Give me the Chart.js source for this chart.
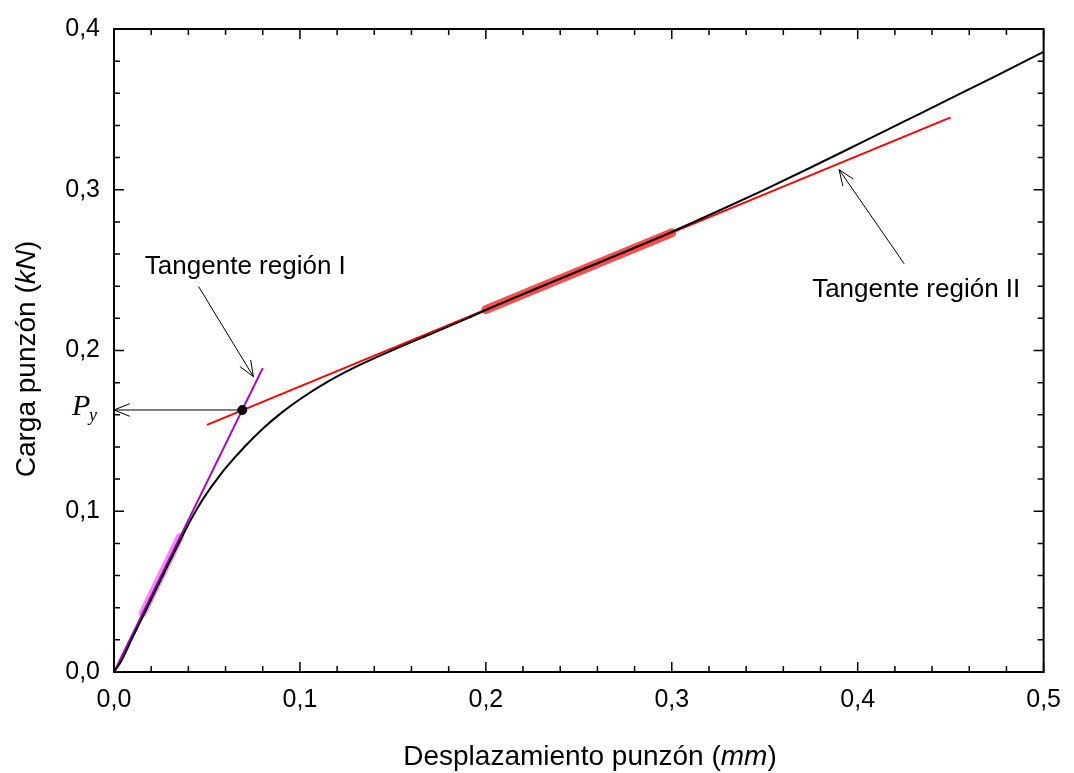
<!DOCTYPE html>
<html>
<head>
<meta charset="utf-8">
<script src="https://cdn.jsdelivr.net/npm/chart.js@4.4.0/dist/chart.umd.min.js"></script>
<style>
  body { margin: 0; background: #fff; }
  #caja { width: 1074px; height: 773px; }
</style>
</head>
<body>
<div id="caja"><canvas id="GraficoPunzon"></canvas></div>
<script>
// curva carga-desplazamiento
const desplazamiento = [0, 0.004, 0.01, 0.02, 0.03, 0.035, 0.04, 0.045, 0.05, 0.055, 0.06, 0.07, 0.08, 0.09, 0.1, 0.115, 0.13, 0.15, 0.17, 0.19, 0.2, 0.225, 0.25, 0.275, 0.3, 0.325, 0.35, 0.375, 0.4, 0.425, 0.45, 0.475, 0.5];
const carga = [0, 0.007, 0.0215, 0.0452, 0.0689, 0.0805, 0.0918, 0.1022, 0.1113, 0.1193, 0.1268, 0.1398, 0.1513, 0.1612, 0.1697, 0.1806, 0.1898, 0.2003, 0.2101, 0.22, 0.2252, 0.2375, 0.2495, 0.2615, 0.2738, 0.2868, 0.3001, 0.314, 0.3282, 0.3425, 0.3568, 0.3712, 0.3858];

// tangentes
const tangenteIx = [0, 0.08];
const tangenteIy = [0, 0.189];
const tangenteIIx = [0.05, 0.45];
const tangenteIIy = [0.1537, 0.345];

// tramos usados para el ajuste
const ajusteIx = [0.0155, 0.0353];
const ajusteIy = [0.0367, 0.0837];
const ajusteIIx = [0.2, 0.3];
const ajusteIIy = [0.2254, 0.2732];

// punto de fluencia Py
const fluenciaX = [0.069];
const fluenciaY = [0.163];

// etiquetas de los ejes
const ticksX = [0, 0.1, 0.2, 0.3, 0.4, 0.5];
const ticksY = [0, 0.1, 0.2, 0.3, 0.4];

function puntos(xs, ys) {
  return xs.map(function (x, i) {
    return { x: x, y: ys[i] };
  });
}

function coma(v) {
  return v.toFixed(1).replace(".", ",");
}

function flecha(ctx, x1, y1, x2, y2) {
  // linea con punta abierta en (x2, y2)
  var ang = Math.atan2(y2 - y1, x2 - x1);
  var largo = 17;
  var abre = 0.38;
  ctx.beginPath();
  ctx.moveTo(x1, y1);
  ctx.lineTo(x2, y2);
  ctx.moveTo(x2 - largo * Math.cos(ang - abre), y2 - largo * Math.sin(ang - abre));
  ctx.lineTo(x2, y2);
  ctx.lineTo(x2 - largo * Math.cos(ang + abre), y2 - largo * Math.sin(ang + abre));
  ctx.stroke();
}

function textoMixto(ctx, partes, x, y) {
  // partes: [texto, cursiva]
  var total = 0;
  partes.forEach(function (p) {
    ctx.font = (p[1] ? "italic " : "") + "28px 'Liberation Sans', Arial, sans-serif";
    total += ctx.measureText(p[0]).width;
  });
  var cx = x - total / 2;
  partes.forEach(function (p) {
    ctx.font = (p[1] ? "italic " : "") + "28px 'Liberation Sans', Arial, sans-serif";
    ctx.fillText(p[0], cx, y);
    cx += ctx.measureText(p[0]).width;
  });
}

const marcoYextras = {
  id: "marcoYextras",
  afterDraw: function (chart) {
    var ctx = chart.ctx;
    var a = chart.chartArea;
    var sx = chart.scales.x;
    var sy = chart.scales.y;
    ctx.save();
    ctx.strokeStyle = "#000";
    ctx.fillStyle = "#000";

    // marco
    ctx.lineWidth = 2;
    ctx.strokeRect(a.left, a.top, a.right - a.left, a.bottom - a.top);

    // marcas hacia adentro en los cuatro lados
    ctx.lineWidth = 1.5;
    ctx.beginPath();
    for (var i = 0; i <= 25; i++) {
      var px = sx.getPixelForValue(i * 0.02);
      var l = i % 5 === 0 ? 10 : 6;
      ctx.moveTo(px, a.bottom); ctx.lineTo(px, a.bottom - l);
      ctx.moveTo(px, a.top); ctx.lineTo(px, a.top + l);
    }
    for (var j = 0; j <= 20; j++) {
      var py = sy.getPixelForValue(j * 0.02);
      var m = j % 5 === 0 ? 10 : 6;
      ctx.moveTo(a.left, py); ctx.lineTo(a.left + m, py);
      ctx.moveTo(a.right, py); ctx.lineTo(a.right - m, py);
    }
    ctx.stroke();

    // titulos de los ejes
    ctx.textBaseline = "alphabetic";
    textoMixto(ctx, [["Desplazamiento punzón (", false], ["mm", true], [")", false]], 590, 765);
    ctx.save();
    ctx.translate(35, 359);
    ctx.rotate(-Math.PI / 2);
    textoMixto(ctx, [["Carga punzón (", false], ["kN", true], [")", false]], 0, 0);
    ctx.restore();

    // flechas
    ctx.lineWidth = 1;
    var fx = sx.getPixelForValue(fluenciaX[0]);
    var fy = sy.getPixelForValue(fluenciaY[0]);
    flecha(ctx, fx, fy, a.left, fy);
    flecha(ctx, sx.getPixelForValue(0.0455), sy.getPixelForValue(0.2398),
      sx.getPixelForValue(0.075), sy.getPixelForValue(0.1837));
    flecha(ctx, sx.getPixelForValue(0.425), sy.getPixelForValue(0.254),
      sx.getPixelForValue(0.390), sy.getPixelForValue(0.3125));

    // anotaciones
    ctx.font = "26px 'Liberation Sans', Arial, sans-serif";
    ctx.textAlign = "left";
    ctx.fillText("Tangente región I", sx.getPixelForValue(0.0166), sy.getPixelForValue(0.2479));
    ctx.fillText("Tangente región II", sx.getPixelForValue(0.3755), sy.getPixelForValue(0.2331));

    // P_y
    ctx.font = "italic 30px 'Liberation Serif', 'Times New Roman', serif";
    ctx.fillText("P", 72, 415);
    ctx.font = "italic 18px 'Liberation Serif', 'Times New Roman', serif";
    ctx.fillText("y", 89, 421);
    ctx.restore();
  },
};

new Chart(document.getElementById("GraficoPunzon"), {
  type: "line",
  data: {
    datasets: [
      {
        label: "Curva",
        data: puntos(desplazamiento, carga),
        borderColor: "#000",
        borderWidth: 2,
        pointRadius: 0,
        cubicInterpolationMode: "monotone",
        order: 1,
      },
      {
        label: "Py",
        data: puntos(fluenciaX, fluenciaY),
        showLine: false,
        pointRadius: 4.5,
        pointBackgroundColor: "#000",
        pointBorderColor: "#000",
        order: 0,
      },
      {
        label: "Tangente región I",
        data: puntos(tangenteIx, tangenteIy),
        borderColor: "#A800C0",
        borderWidth: 2,
        pointRadius: 0,
        order: 3,
      },
      {
        label: "Tangente región II",
        data: puntos(tangenteIIx, tangenteIIy),
        borderColor: "#FF0000",
        borderWidth: 2,
        pointRadius: 0,
        order: 3,
      },
      {
        label: "Ajuste I",
        data: puntos(ajusteIx, ajusteIy),
        borderColor: "rgba(238,110,238,0.8)",
        borderWidth: 8,
        borderCapStyle: "round",
        pointRadius: 0,
        order: 5,
      },
      {
        label: "Ajuste II",
        data: puntos(ajusteIIx, ajusteIIy),
        borderColor: "rgba(240,50,50,0.85)",
        borderWidth: 9,
        borderCapStyle: "round",
        pointRadius: 0,
        order: 5,
      },
    ],
  },
  options: {
    responsive: true,
    maintainAspectRatio: false,
    animation: false,
    layout: { padding: { top: 20, right: 26, left: 0, bottom: 0 } },
    plugins: {
      legend: { display: false },
      tooltip: { enabled: false },
    },
    scales: {
      x: {
        type: "linear",
        min: 0,
        max: 0.5,
        afterBuildTicks: function (s) {
          s.ticks = ticksX.map(function (v) { return { value: v }; });
        },
        afterFit: function (s) { s.height = 101; },
        grid: { display: false, drawTicks: false },
        border: { display: false },
        ticks: {
          padding: 13,
          color: "#000",
          maxRotation: 0,
          font: { family: "'Liberation Sans', Arial, sans-serif", size: 25 },
          callback: function (v) { return coma(v); },
        },
      },
      y: {
        type: "linear",
        min: 0,
        max: 0.4,
        afterBuildTicks: function (s) {
          s.ticks = ticksY.map(function (v) { return { value: v }; });
        },
        afterFit: function (s) { s.width = 114; },
        grid: { display: false, drawTicks: false },
        border: { display: false },
        ticks: {
          padding: 14,
          color: "#000",
          font: { family: "'Liberation Sans', Arial, sans-serif", size: 25 },
          callback: function (v) { return coma(v); },
        },
      },
    },
  },
  plugins: [marcoYextras],
});
</script>
</body>
</html>
